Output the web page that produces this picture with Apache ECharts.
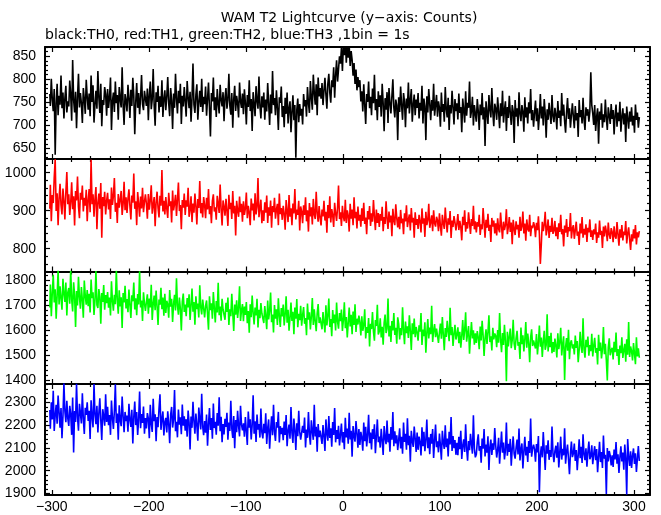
<!DOCTYPE html>
<html>
<head>
<meta charset="utf-8">
<script src="https://cdn.jsdelivr.net/npm/echarts@6/dist/echarts.min.js"></script>
<style>
html,body{margin:0;padding:0;background:#fff;}
#chart{width:661px;height:515px;}
</style>
</head>
<body>
<div id="chart"></div>
<script>
// ---- data (1 bin = 1 s) ----
const t0 = -302; // time of the first bin (s)
const titleText = 'WAM T2 Lightcurve (y\u2212axis: Counts)';
const subtitleText = 'black:TH0, red:TH1, green:TH2, blue:TH3 ,1bin = 1s';
const xTicks = [-300, -200, -100, 0, 100, 200, 300];

const th0 = [
768,742,801,757,731,779,636,748,790,722,764,745,808,737,771,715,759,786,728,752,
741,797,766,710,842,755,728,773,694,760,812,739,770,748,705,781,756,725,799,762,
734,769,720,808,751,787,706,745,775,736,818,760,727,790,698,755,744,783,767,721,
779,738,761,804,690,752,771,729,795,748,766,712,783,757,739,826,745,701,768,754,
730,788,759,716,777,742,803,764,681,750,792,738,770,724,761,809,746,733,775,758,
742,780,711,767,795,735,756,822,744,699,772,751,786,728,763,740,798,718,757,776,
733,762,805,747,720,781,754,692,769,738,812,757,726,775,748,790,703,764,741,783,
752,719,796,761,737,773,708,758,834,745,727,766,789,712,750,775,740,801,729,762,
746,784,721,757,793,738,676,770,752,804,733,761,718,779,747,726,788,755,741,772,
709,760,781,736,755,812,742,723,770,695,757,786,731,764,748,717,793,752,738,769,
724,778,749,702,766,740,798,731,757,688,772,745,720,785,753,736,806,742,715,763,
739,771,712,756,730,792,748,701,767,726,818,744,759,722,776,737,690,761,749,784,
718,742,696,760,725,771,704,737,752,685,729,765,711,744,630,733,758,707,746,721,
736,702,768,741,755,719,783,748,727,796,760,734,810,771,745,789,722,804,763,781,
758,792,744,775,803,767,736,790,812,771,749,798,783,826,760,808,841,795,822,850,
834,868,818,875,852,890,836,880,847,872,829,861,842,808,835,790,821,776,805,783,
798,752,774,730,789,745,703,768,751,795,737,762,722,780,748,810,733,757,711,774,
740,765,719,790,748,687,759,734,772,705,781,748,726,763,800,739,717,756,744,668,
761,729,784,743,712,770,751,696,758,737,793,726,754,779,708,745,767,722,756,738,
770,715,749,732,786,704,758,741,668,763,728,779,747,711,755,732,790,721,744,766,
719,752,738,697,771,729,746,708,783,735,717,760,690,744,726,775,739,702,757,731,
748,713,769,727,740,685,758,733,706,774,721,749,738,795,716,731,762,700,744,725,
708,757,731,690,745,722,770,713,739,655,752,727,703,766,734,717,781,729,698,747,
736,712,761,729,694,748,720,775,706,733,752,688,740,716,764,727,701,744,731,662,
755,719,737,698,772,725,709,744,730,686,761,717,739,704,750,726,779,711,733,697,
728,754,709,737,690,722,768,715,741,700,757,726,673,735,712,749,725,703,766,719,
707,738,724,691,753,716,732,698,770,721,745,709,684,728,759,714,737,695,722,748,
719,694,742,711,727,675,755,718,733,704,760,713,690,739,721,735,708,730,815,744,
726,701,744,688,719,737,660,730,712,748,695,724,707,756,716,690,739,721,703,746,
714,733,680,722,745,697,728,709,751,686,718,737,702,726,664,741,715,693,730,708,
739,700,721,684,745,712,728,695,718
];

const th1 = [
905,968,872,941,920,987,1035,899,946,862,932,971,915,890,958,926,877,949,1002,917,
943,889,921,975,904,938,861,952,927,990,911,880,947,929,966,898,934,913,955,872,
928,957,896,1034,917,943,884,930,962,851,920,945,905,973,829,936,912,950,890,926,
947,903,930,878,961,915,939,986,897,921,868,944,908,929,952,889,918,976,901,935,
894,931,956,912,877,940,921,998,905,925,862,949,918,884,937,906,960,896,923,943,
918,879,944,903,928,967,892,915,936,859,921,950,907,882,939,913,1007,898,926,890,
936,905,881,947,912,925,869,953,901,918,942,886,930,974,899,915,851,928,908,945,
889,927,911,960,884,903,938,870,919,895,945,912,864,931,907,978,893,920,882,936,
915,880,934,903,957,891,912,867,926,943,898,909,876,939,918,894,969,905,861,927,
910,887,931,899,860,942,904,921,878,952,893,913,835,926,901,884,937,896,918,871,
925,889,906,948,880,913,895,862,932,901,919,874,946,890,910,986,883,904,929,867,
901,873,922,895,940,868,909,887,927,855,912,896,934,879,903,918,862,945,891,907,
876,913,892,850,928,899,870,941,884,906,862,919,893,957,877,903,889,926,848,911,
898,867,914,889,935,872,901,845,920,885,909,864,931,890,878,950,894,871,912,882,
861,903,885,926,874,897,842,915,880,938,869,904,888,857,921,893,873,909,966,878,
896,860,913,884,872,929,868,901,887,845,918,879,903,862,935,880,897,853,911,874,
889,858,906,873,921,865,882,838,899,877,912,860,893,871,928,884,849,903,868,894,
857,891,874,910,846,883,865,925,879,852,898,869,887,833,905,874,862,917,881,856,
884,851,902,867,879,838,893,872,914,857,876,890,848,907,869,881,829,896,863,878,
852,889,871,843,906,866,880,831,897,862,875,918,855,870,888,846,901,867,858,884,
875,846,893,860,834,889,867,852,908,871,843,880,863,899,828,874,857,886,869,848,
866,891,849,873,857,822,884,862,901,845,870,853,896,867,839,878,860,913,851,872,
843,870,858,889,836,864,851,907,868,829,876,855,892,847,863,818,881,858,874,840,
867,835,880,852,843,895,858,826,871,849,862,904,838,857,883,844,869,812,876,853,
836,872,851,863,829,884,847,858,898,840,866,821,877,852,845,889,833,861,854,870,
859,830,868,849,885,838,760,812,871,846,863,897,835,852,877,828,860,844,881,839,
848,873,833,856,825,867,844,889,838,852,806,861,842,878,831,857,846,894,827,853,
862,826,849,871,834,845,810,866,840,883,829,852,837,864,818,855,843,877,831,848,
823,851,838,866,815,843,829,874,836,847,802,858,832,861,845,820,869,837,826,854,
844,817,859,833,826,870,838,808,851,829,862,822,845,836,873,814,840,856,825,797,
838,819,851,827,862,811,843,830,846
];

const th2 = [
1690,1782,1655,1748,1821,1710,1763,1645,1736,1840,1702,1775,1728,1681,1805,1745,1712,1790,1658,1750,
1768,1705,1840,1722,1674,1791,1740,1612,1756,1698,1813,1731,1685,1772,1720,1649,1798,1737,1701,1760,
1695,1745,1670,1802,1728,1751,1660,1719,1836,1700,1688,1764,1733,1625,1748,1712,1780,1681,1740,1707,
1752,1689,1730,1658,1795,1716,1677,1741,1703,1838,1722,1665,1759,1694,1731,1608,1748,1710,1777,1686,
1724,1671,1762,1700,1648,1739,1715,1790,1682,1727,1659,1744,1702,1835,1690,1718,1636,1751,1707,1676,
1712,1743,1665,1726,1690,1781,1640,1705,1738,1679,1758,1696,1620,1722,1701,1769,1683,1730,1657,1745,
1668,1717,1702,1649,1760,1693,1725,1632,1704,1741,1678,1807,1697,1661,1730,1685,1598,1714,1746,1672,
1702,1655,1728,1690,1743,1640,1698,1766,1673,1712,1621,1735,1684,1706,1650,1779,1691,1662,1722,1687,
1650,1696,1718,1664,1601,1735,1679,1707,1645,1752,1688,1630,1716,1670,1789,1659,1694,1637,1725,1682,
1688,1641,1709,1672,1730,1620,1683,1655,1745,1668,1596,1702,1661,1719,1648,1690,1775,1636,1678,1704,
1635,1694,1660,1712,1627,1676,1589,1703,1651,1738,1669,1622,1690,1658,1725,1610,1681,1647,1708,1666,
1670,1628,1696,1655,1603,1718,1642,1677,1750,1631,1662,1590,1700,1645,1683,1620,1727,1656,1612,1688,
1654,1702,1618,1663,1735,1629,1681,1597,1648,1710,1636,1673,1583,1690,1645,1724,1611,1665,1639,1697,
1617,1660,1692,1625,1648,1579,1706,1641,1671,1602,1655,1728,1620,1683,1636,1595,1667,1704,1628,1650,
1648,1603,1672,1631,1590,1699,1618,1657,1726,1612,1644,1575,1680,1627,1662,1598,1710,1633,1605,1668,
1635,1682,1596,1640,1711,1607,1652,1570,1628,1690,1614,1661,1583,1674,1620,1703,1592,1645,1622,1658,
1631,1578,1655,1597,1620,1683,1566,1612,1589,1648,1534,1625,1604,1672,1593,1557,1640,1616,1701,1582,
1594,1647,1570,1613,1541,1629,1662,1588,1605,1726,1574,1617,1552,1636,1598,1668,1580,1609,1545,1651,
1625,1562,1608,1579,1691,1600,1543,1634,1587,1615,1568,1659,1596,1520,1627,1583,1646,1571,1612,1590,
1557,1619,1593,1668,1540,1602,1575,1631,1509,1588,1644,1566,1610,1583,1697,1552,1598,1624,1571,1606,
1603,1548,1590,1626,1565,1652,1581,1519,1608,1572,1637,1594,1555,1689,1579,1612,1536,1585,1621,1562,
1582,1611,1547,1593,1529,1576,1640,1560,1598,1671,1553,1585,1616,1505,1574,1632,1566,1599,1541,1587,
1548,1596,1570,1523,1614,1558,1637,1580,1496,1567,1603,1544,1591,1659,1552,1575,1518,1609,1563,1586,
1577,1531,1600,1549,1668,1562,1511,1588,1540,1621,1556,1395,1593,1534,1572,1606,1527,1559,1641,1545,
1520,1568,1597,1537,1552,1484,1610,1543,1579,1514,1563,1632,1529,1586,1548,1471,1571,1603,1536,1558,
1561,1526,1584,1502,1549,1618,1533,1570,1492,1555,1597,1521,1540,1663,1514,1576,1531,1589,1507,1552,
1512,1566,1538,1490,1587,1523,1551,1609,1498,1544,1575,1400,1532,1568,1517,1601,1483,1547,1559,1526,
1543,1502,1578,1528,1556,1471,1519,1593,1535,1508,1647,1522,1489,1561,1531,1574,1497,1540,1515,1585,
1494,1537,1569,1509,1528,1462,1581,1516,1550,1486,1523,1612,1503,1545,1478,1398,1531,1567,1499,1520,
1529,1482,1553,1511,1590,1496,1524,1460,1538,1507,1571,1488,1519,1545,1473,1563,1501,1632,1492,1534,
1516,1478,1548,1505,1463,1571,1494,1527,1489
];

const th3 = [
2268,2185,2301,2226,2352,2175,2244,2290,2207,2331,2258,2190,2276,2143,2239,2385,2262,2214,2308,2231,
2197,2286,2249,2158,2322,2080,2263,2215,2383,2237,2176,2295,2254,2208,2341,2229,2162,2277,2246,2301,
2219,2264,2140,2310,2236,2191,2382,2247,2205,2286,2168,2253,2319,2222,2135,2271,2240,2198,2337,2215,
2282,2201,2245,2158,2309,2232,2184,2264,2381,2210,2252,2137,2288,2223,2196,2327,2241,2170,2259,2218,
2243,2172,2295,2224,2193,2268,2120,2237,2305,2201,2259,2158,2226,2349,2187,2250,2211,2283,2163,2232,
2186,2254,2229,2143,2290,2206,2171,2317,2218,2249,2130,2236,2192,2274,2337,2180,2227,2261,2155,2214,
2233,2169,2262,2207,2121,2248,2281,2190,2225,2356,2174,2216,2147,2269,2203,2235,2161,2292,2198,2240,
2176,2227,2150,2265,2211,2094,2239,2189,2304,2218,2163,2252,2201,2132,2278,2226,2182,2339,2195,2157,
2219,2168,2247,2110,2203,2276,2180,2232,2141,2296,2188,2215,2159,2254,2198,2323,2174,2238,2126,2206,
2160,2229,2193,2255,2137,2212,2175,2308,2186,2144,2241,2099,2223,2170,2264,2197,2151,2286,2204,2178,
2209,2150,2236,2174,2113,2261,2190,2226,2138,2199,2332,2163,2218,2127,2247,2181,2205,2146,2274,2169,
2142,2207,2165,2253,2118,2188,2226,2097,2179,2240,2156,2291,2173,2131,2214,2190,2259,2124,2196,2161,
2189,2134,2217,2158,2245,2108,2176,2203,2141,2281,2166,2122,2230,2180,2091,2209,2152,2264,2171,2137,
2129,2198,2167,2234,2102,2181,2145,2259,2160,2115,2222,2173,2136,2290,2151,2193,2084,2206,2148,2177,
2172,2118,2201,2154,2087,2226,2163,2132,2241,2144,2187,2106,2215,2158,2276,2125,2179,2140,2198,2111,
2159,2208,2124,2170,2095,2233,2147,2186,2119,2255,2138,2176,2062,2197,2151,2128,2219,2165,2101,2184,
2113,2171,2146,2088,2212,2130,2193,2107,2157,2246,2121,2168,2094,2183,2140,2205,2077,2152,2226,2126,
2150,2102,2185,2133,2069,2197,2144,2117,2221,2125,2163,2084,2192,2137,2258,2108,2174,2120,2156,2091,
2136,2187,2098,2149,2075,2212,2127,2163,2093,2231,2112,2154,2040,2176,2130,2105,2195,2142,2083,2168,
2092,2150,2125,2067,2191,2108,2171,2086,2136,2225,2099,2147,2073,2162,2119,2184,2056,2131,2203,2104,
2129,2081,2164,2112,2048,2176,2123,2096,2200,2104,2142,2063,2171,2116,2237,2087,2153,2099,2135,2070,
2123,2068,2149,2095,2176,2052,2110,2138,2083,2205,2101,2044,2131,2090,2163,2117,2075,2244,2098,2059,
2071,2126,2160,2088,2109,2035,2142,2097,2184,2063,2115,2080,2152,2003,2104,2137,2069,2121,2092,2188,
2110,2058,2093,2145,2031,2102,2173,2079,2124,2050,2089,2212,2066,2118,2083,2140,2022,2097,2151,2074,
2053,2101,2137,2072,2186,2045,2094,2120,2010,2085,2149,2067,2105,2039,2131,2078,2230,2062,2097,2115,
2094,2040,2118,2081,2153,1905,2069,2107,2059,2170,2088,2003,2112,2075,2134,2048,2091,2061,2195,2077,
2038,2086,2110,2057,2125,2014,2079,2150,2049,2096,2068,2187,2031,2083,2115,2052,1985,2074,2128,2060,
2076,2120,2043,2091,2002,2067,2138,2055,2105,2034,2160,2072,2047,2099,2018,2083,2128,2051,2064,2112,
2029,2074,2108,2046,2095,1993,2061,2127,2038,2082,2012,2155,2053,2070,1897,2100,2041,2087,2066,2023,
2068,2017,2093,2050,2126,2031,2072,1990,2059,2108,2041,2080,2004,2115,2056,1895,2140,2062,2021,2086,
2012,2065,2098,2030,2077,1995,2054,2109,2043
];

const th0Ticks = [650, 700, 750, 800, 850];
const th1Ticks = [800, 900, 1000];
const th2Ticks = [1400, 1500, 1600, 1700, 1800];
const th3Ticks = [1900, 2000, 2100, 2200, 2300];

// ---- layout / style ----
const X_MIN = -307, X_MAX = 316.5;
const FONT = 'Liberation Sans';
const panels = [
  { data: th0, color: '#000000', min: 627,  max: 870,  major: th0Ticks, minorStep: 10, top: 47,    height: 112 },
  { data: th1, color: '#ff0000', min: 740,  max: 1036, major: th1Ticks, minorStep: 20, top: 159,   height: 112.5 },
  { data: th2, color: '#00ff00', min: 1384, max: 1834, major: th2Ticks, minorStep: 20, top: 271.5, height: 112.5 },
  { data: th3, color: '#0000ff', min: 1893, max: 2382, major: th3Ticks, minorStep: 20, top: 384,   height: 111 }
];

function minorList(lo, hi, step, majors) {
  const out = [];
  const start = Math.ceil(lo / step) * step;
  for (let v = start; v <= hi; v += step) if (majors.indexOf(v) < 0) out.push(v);
  return out;
}
const xMinor = minorList(X_MIN, X_MAX, 20, xTicks);

function fmt(v) { return v < 0 ? '\u2212' + Math.abs(v) : String(v); }

function mkAxis(gi, pos, min, max, ticks, len, line, label) {
  return {
    type: 'value', gridIndex: gi, position: pos, min: min, max: max,
    axisLine: { show: line, onZero: false, lineStyle: { color: '#000', width: 2 } },
    axisTick: { show: true, inside: true, length: len, customValues: ticks, lineStyle: { color: '#000', width: 1.2 } },
    axisLabel: { show: label, customValues: ticks, color: '#000', fontSize: 14, fontFamily: FONT,
                 margin: (pos === 'left' || pos === 'right') ? 9 : 5, formatter: fmt },
    splitLine: { show: false }, minorTick: { show: false }, minorSplitLine: { show: false },
    splitArea: { show: false }
  };
}

const grids = [], xAxes = [], yAxes = [], series = [];
panels.forEach(function (p, i) {
  grids.push({ left: 45, width: 605, top: p.top, height: p.height, show: false, containLabel: false });
  const yMinor = minorList(p.min, p.max, p.minorStep, p.major);
  const last = i === panels.length - 1;
  xAxes.push(mkAxis(i, 'bottom', X_MIN, X_MAX, xTicks, 5, true, last));
  xAxes.push(mkAxis(i, 'bottom', X_MIN, X_MAX, xMinor, 3, false, false));
  xAxes.push(mkAxis(i, 'top', X_MIN, X_MAX, xTicks, 5, true, false));
  xAxes.push(mkAxis(i, 'top', X_MIN, X_MAX, xMinor, 3, false, false));
  yAxes.push(mkAxis(i, 'left', p.min, p.max, p.major, 5, true, true));
  yAxes.push(mkAxis(i, 'left', p.min, p.max, yMinor, 3, false, false));
  yAxes.push(mkAxis(i, 'right', p.min, p.max, p.major, 5, true, false));
  yAxes.push(mkAxis(i, 'right', p.min, p.max, yMinor, 3, false, false));
  series.push({
    type: 'line', xAxisIndex: i * 4, yAxisIndex: i * 4,
    data: p.data.map(function (v, k) { return [t0 + k, v]; }),
    step: 'middle', showSymbol: false, symbol: 'none', clip: true, silent: true,
    lineStyle: { color: p.color, width: 1.6 }, itemStyle: { color: p.color }
  });
});

const chart = echarts.init(document.getElementById('chart'), null, { renderer: 'canvas' });
chart.setOption({
  animation: false,
  backgroundColor: '#ffffff',
  grid: grids, xAxis: xAxes, yAxis: yAxes, series: series,
  graphic: [
    { type: 'text', x: 349, y: 18, style: { text: titleText, fill: '#000', font: '14px "DejaVu Sans"', textAlign: 'center', textVerticalAlign: 'middle' } },
    { type: 'text', x: 45, y: 35, style: { text: subtitleText, fill: '#000', font: '14px "DejaVu Sans"', textAlign: 'left', textVerticalAlign: 'middle' } }
  ]
});
</script>
</body>
</html>
